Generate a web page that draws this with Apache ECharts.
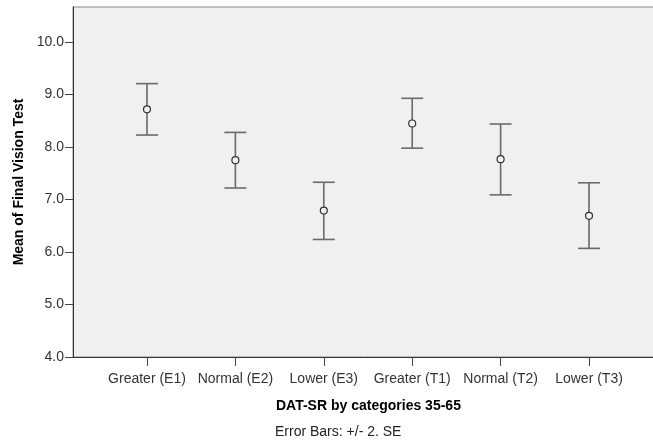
<!DOCTYPE html>
<html>
<head>
<meta charset="utf-8">
<script src="https://cdn.jsdelivr.net/npm/echarts@6/dist/echarts.min.js"></script>
<style>
html,body{margin:0;padding:0;background:#fff;}
#chart{width:653px;height:442px;}
</style>
</head>
<body>
<div id="chart"></div>
<script>
var categories = ['Greater (E1)', 'Normal (E2)', 'Lower (E3)', 'Greater (T1)', 'Normal (T2)', 'Lower (T3)'];
var means = [8.72, 7.75, 6.79, 8.45, 7.77, 6.69];
var lower = [8.23, 7.22, 6.24, 7.98, 7.09, 6.07];
var upper = [9.21, 8.28, 7.33, 8.93, 8.44, 7.32];
var yTicks = [4, 5, 6, 7, 8, 9, 10];
var xTicks = [0, 1, 2, 3, 4, 5];

var FONT = '"Liberation Sans", Arial, sans-serif';
var chart = echarts.init(document.getElementById('chart'), null, {renderer: 'canvas'});

var errData = categories.map(function (c, i) { return [i, lower[i], upper[i]]; });
var meanData = categories.map(function (c, i) { return [i, means[i]]; });

chart.setOption({
  animation: false,
  backgroundColor: '#ffffff',
  textStyle: {fontFamily: FONT},
  title: [
    {text: 'DAT-SR by categories 35-65', left: 271, top: 394,
     textStyle: {fontFamily: FONT, fontSize: 14, fontWeight: 'bold', color: '#000'}},
    {text: 'Error Bars: +/- 2. SE', left: 270, top: 420,
     textStyle: {fontFamily: FONT, fontSize: 14, fontWeight: 'normal', color: '#222'}}
  ],
  grid: {left: 73, top: 7, width: 590, bottom: 85, show: true, outerBoundsMode: 'none',
         backgroundColor: '#f0f0f0', borderColor: '#8a8a8a', borderWidth: 1, containLabel: false},
  xAxis: {
    type: 'value', min: -0.837, max: 5.837,
    splitLine: {show: false},
    axisLine: {show: true, onZero: false, lineStyle: {color: '#333', width: 1}},
    axisTick: {show: true, length: 9, customValues: xTicks, lineStyle: {color: '#444', width: 1}},
    axisLabel: {customValues: xTicks, margin: 15, fontSize: 14, color: '#333', fontFamily: FONT,
      formatter: function (v) { return categories[Math.round(v)] || ''; }}
  },
  yAxis: {
    type: 'value', min: 4, max: 10.67,
    name: 'Mean of Final Vision Test', nameLocation: 'middle', nameGap: 46,
    nameTextStyle: {fontFamily: FONT, fontSize: 14, fontWeight: 'bold', color: '#000'},
    splitLine: {show: false},
    axisLine: {show: true, onZero: false, lineStyle: {color: '#333', width: 1}},
    axisTick: {show: true, length: 8, customValues: yTicks, lineStyle: {color: '#444', width: 1}},
    axisLabel: {customValues: yTicks, margin: 9, fontSize: 14, color: '#333', fontFamily: FONT,
      formatter: function (v) { return v.toFixed(1); }}
  },
  series: [
    {
      type: 'custom',
      data: errData,
      renderItem: function (params, api) {
        var x = api.value(0);
        var lo = api.coord([x, api.value(1)]);
        var hi = api.coord([x, api.value(2)]);
        var hw = 11;
        var style = {stroke: '#6a6a6a', lineWidth: 1.6, fill: null};
        return {
          type: 'group',
          children: [
            {type: 'line', shape: {x1: lo[0], y1: lo[1], x2: hi[0], y2: hi[1]}, style: style},
            {type: 'line', shape: {x1: lo[0] - hw, y1: lo[1], x2: lo[0] + hw, y2: lo[1]}, style: style},
            {type: 'line', shape: {x1: hi[0] - hw, y1: hi[1], x2: hi[0] + hw, y2: hi[1]}, style: style}
          ]
        };
      },
      z: 2
    },
    {
      type: 'scatter',
      data: meanData,
      symbol: 'circle',
      symbolSize: 7,
      itemStyle: {color: '#f0f0f0', borderColor: '#333', borderWidth: 1.2, opacity: 1},
      z: 3
    }
  ]
});
</script>
</body>
</html>
